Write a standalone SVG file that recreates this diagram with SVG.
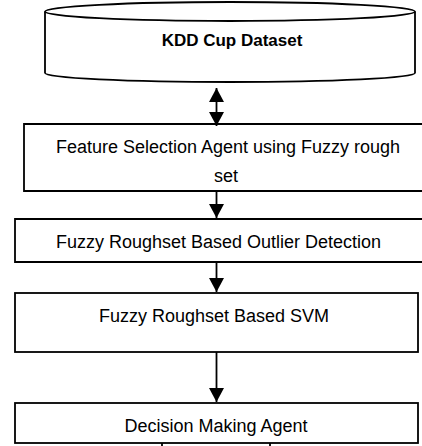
<svg xmlns="http://www.w3.org/2000/svg" width="422" height="446" viewBox="0 0 422 446">
<style>
  .box { fill: #ffffff; stroke: #000000; stroke-width: 1.8; }
  .lbl { font-family: "Liberation Sans", Arial, sans-serif; font-size: 18px; fill: #000000; text-anchor: middle; }
  .bold { font-weight: bold; font-size: 17px; }
  .conn { stroke: #000000; stroke-width: 1.8; fill: none; }
</style>
<defs>
  <marker id="ah" markerUnits="userSpaceOnUse" markerWidth="15" markerHeight="15" refX="14" refY="7.5" orient="auto-start-reverse">
    <path d="M0,0 L14,7.5 L0,15 z" fill="#000000"/>
  </marker>
</defs>
<rect width="422" height="446" fill="#ffffff"/>
<g id="kdd">
  <path class="box" d="M45,11.5 L45,73 A185,9 0 0 0 415,73 L415,11.5"/>
  <ellipse class="box" cx="230" cy="11.5" rx="185" ry="9.5"/>
  <text class="lbl bold" x="232" y="46">KDD Cup Dataset</text>
</g>
<g id="feature">
  <path class="box" d="M430,124 L24,124 L24,191 L430,191"/>
  <text class="lbl" x="228" y="153">Feature Selection Agent using Fuzzy rough</text>
  <text class="lbl" x="226" y="182">set</text>
</g>
<g id="outlier">
  <path class="box" d="M430,219 L15,219 L15,262 L430,262"/>
  <text class="lbl" x="218.5" y="248">Fuzzy Roughset Based Outlier Detection</text>
</g>
<g id="svm">
  <rect class="box" x="15" y="293" width="403" height="59"/>
  <text class="lbl" x="214" y="322">Fuzzy Roughset Based SVM</text>
</g>
<g id="decision">
  <rect class="box" x="15" y="403" width="403" height="40"/>
  <text class="lbl" x="216" y="432">Decision Making Agent</text>
  <line class="conn" x1="162" y1="443" x2="162" y2="446" stroke-width="1"/>
  <line class="conn" x1="270" y1="443" x2="270" y2="446" stroke-width="1"/>
</g>
<g id="connectors">
  <line class="conn" x1="216.5" y1="88" x2="216.5" y2="126" marker-start="url(#ah)" marker-end="url(#ah)"/>
  <line class="conn" x1="216.5" y1="191" x2="216.5" y2="218" marker-end="url(#ah)"/>
  <line class="conn" x1="216.5" y1="262" x2="216.5" y2="292" marker-end="url(#ah)"/>
  <line class="conn" x1="216.5" y1="352" x2="216.5" y2="402" marker-end="url(#ah)"/>
</g>
</svg>
